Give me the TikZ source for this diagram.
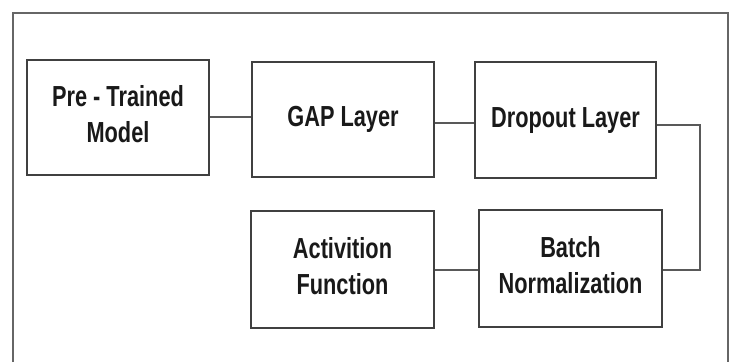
\documentclass[tikz,border=0pt]{standalone}
\usepackage{fontspec}
\setmainfont{Liberation Sans}
\newcommand{\narrowtxt}[1]{\scalebox{0.75}[1]{\begin{tabular}{@{}c@{}}#1\end{tabular}}}
\begin{document}
\begin{tikzpicture}[x=1pt,y=-1pt,
  blockbox/.style={draw=black!75, line width=1.8pt, minimum width=#1, inner sep=0pt,
    font=\bfseries\fontsize{29}{35.5}\selectfont, align=center, text=black!90},
  link/.style={draw=black!65, line width=1.8pt}]
\useasboundingbox (0,0) rectangle (736,362);
\fill[white] (0,0) rectangle (736,362);
% outer frame (open at bottom)
\draw[draw=black!60, line width=1.8pt] (13,362) -- (13,13) -- (728,13) -- (728,362);
% blocks
\node[blockbox=182pt, minimum height=115pt] (pre) at (118,117.5) {\narrowtxt{Pre - Trained\\Model}};
\node[blockbox=182pt, minimum height=115pt] (gap) at (343,119.5) {\narrowtxt{GAP Layer}};
\node[blockbox=181pt, minimum height=116pt] (drop) at (565.5,120) {\narrowtxt{Dropout Layer}};
\node[blockbox=183pt, minimum height=117pt] (act) at (342.5,269.5) {\narrowtxt{Activition\\Function}};
\node[blockbox=183pt, minimum height=117pt] (bn) at (570.5,268.5) {\narrowtxt{Batch\\Normalization}};
% connectors
\coordinate (c1) at (700,125);
\coordinate (c2) at (700,270);
\draw[link] (pre.east |- 0,117) -- (gap.west |- 0,117);
\draw[link] (gap.east |- 0,123) -- (drop.west |- 0,123);
\draw[link] (drop.east |- c1) -- (c1) -- (c2) -- (bn.east |- c2);
\draw[link] (bn.west |- c2) -- (act.east |- c2);
\end{tikzpicture}
\end{document}
